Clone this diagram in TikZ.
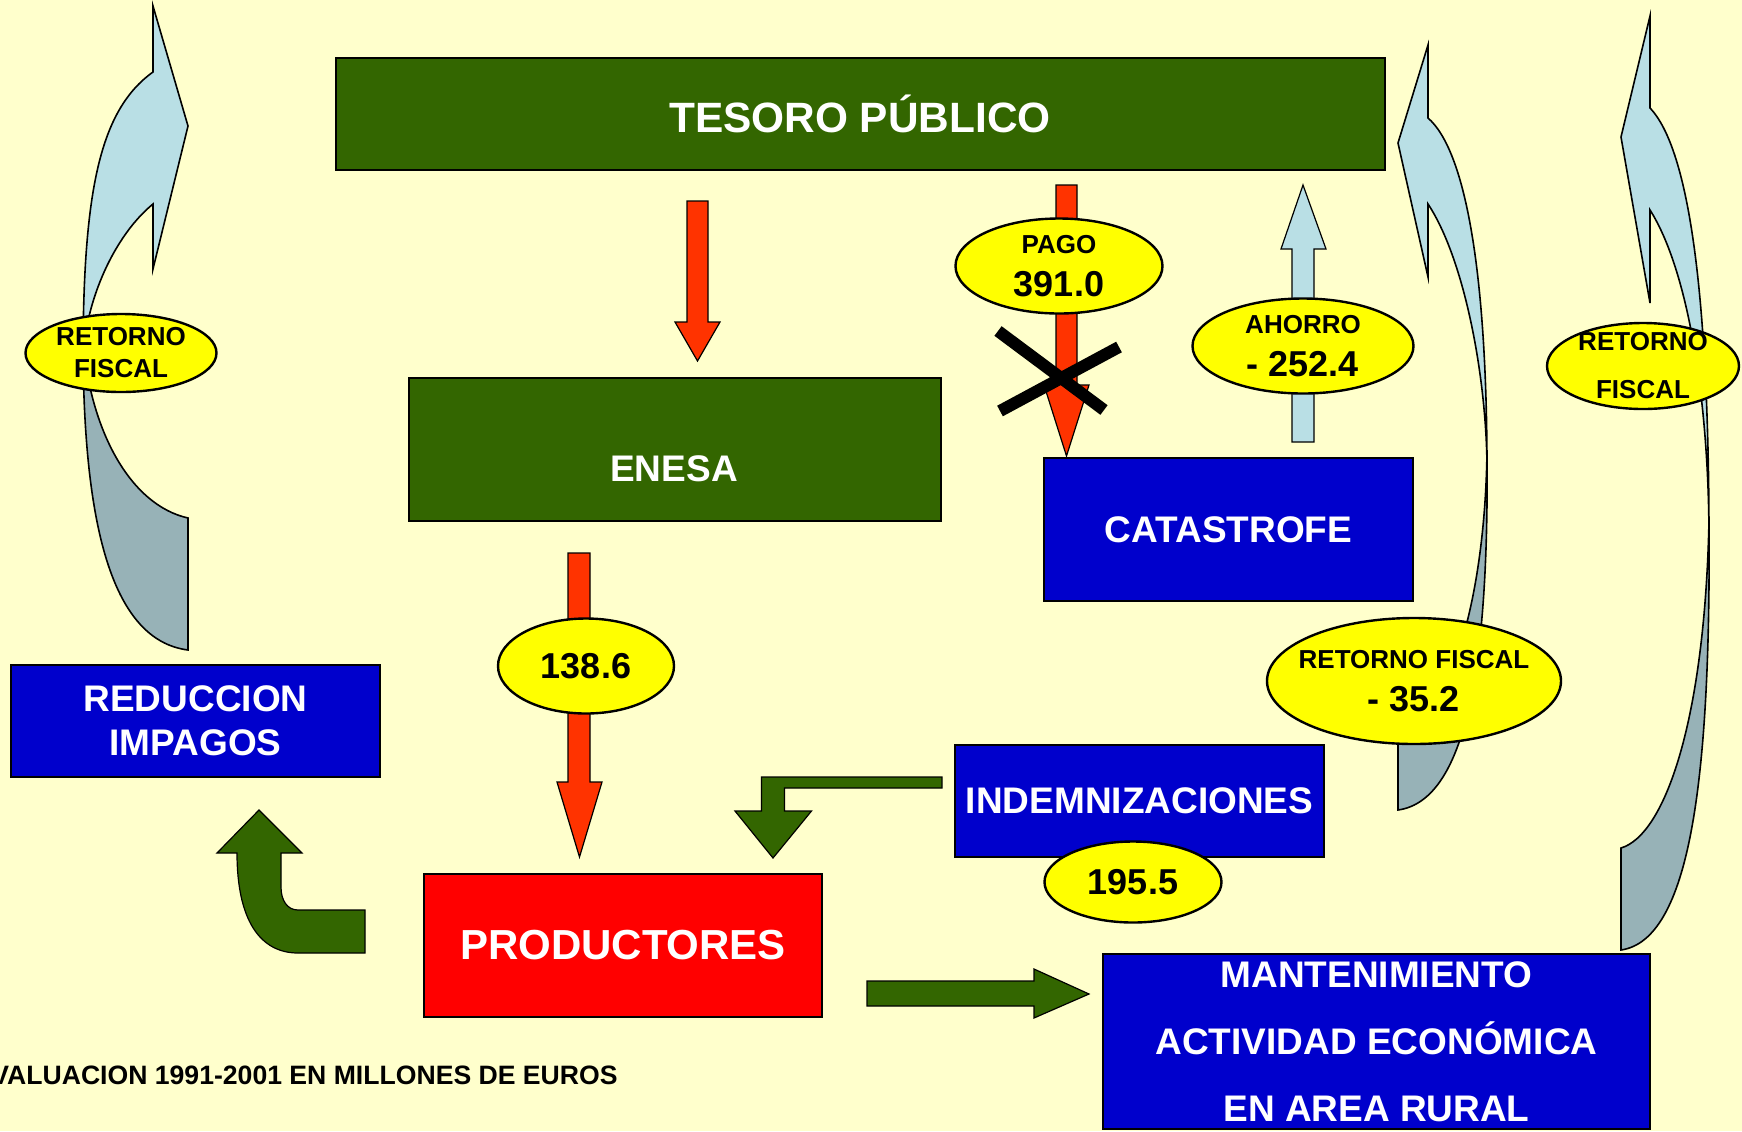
\documentclass[tikz,border=0pt]{standalone}
\usepackage{fontspec}
\setmainfont{Liberation Sans}
\usetikzlibrary{shapes.geometric}

\definecolor{fondo}{RGB}{255,255,204}
\definecolor{verde}{RGB}{51,102,0}
\definecolor{azul}{RGB}{0,0,204}
\definecolor{rojo}{RGB}{255,0,0}
\definecolor{naranja}{RGB}{255,51,0}
\definecolor{amarillo}{RGB}{255,255,0}
\definecolor{celeste}{RGB}{185,223,229}
\definecolor{gris}{RGB}{151,178,183}

\begin{document}
\begin{tikzpicture}
   [x=0.5pt,y=-0.5pt,
    caja/.style={rectangle,draw=black,line width=1pt,inner sep=0pt,align=center,
      text=white,font=\bfseries\fontsize{18.5}{22}\selectfont},
    cverde/.style={caja,fill=verde},
    cazul/.style={caja,fill=azul},
    globo/.style={ellipse,draw=black,line width=1.2pt,fill=amarillo,inner sep=-4pt,
      align=center,font=\bfseries\fontsize{13}{16}\selectfont},
    bloque/.style={draw=black,line width=0.6pt},
    retorno/.style={draw=black,line width=0.8pt}]

\fill[fondo] (0,0) rectangle (1742,1131);
\useasboundingbox (0,0) rectangle (1742,1131);

% retornos fiscales
\draw[retorno,fill=gris] (188,650) -- (188,518) .. controls (130,505) and (90,430) .. (83,340) .. controls (83,520) and (110,640) .. (188,650) -- cycle;
\draw[retorno,fill=celeste] (153,72) .. controls (100,110) and (83,190) .. (83,360) .. controls (85,300) and (115,235) .. (153,204) -- (153,269) -- (188,126) -- (153,6) -- cycle;
\draw[retorno,fill=gris] (1398,810) -- (1398,740) .. controls (1440,730) and (1485,620) .. (1487,450) .. controls (1489,650) and (1470,800) .. (1398,810) -- cycle;
\draw[retorno,fill=celeste] (1428,118) .. controls (1465,150) and (1487,270) .. (1487,470) .. controls (1487,380) and (1465,260) .. (1428,204) -- (1428,277) -- (1398,143) -- (1428,45) -- cycle;
\draw[retorno,fill=gris] (1621,950) -- (1621,848) .. controls (1665,835) and (1705,720) .. (1709,520) .. controls (1711,780) and (1690,940) .. (1621,950) -- cycle;
\draw[retorno,fill=celeste] (1650,108) .. controls (1690,150) and (1709,300) .. (1709,540) .. controls (1709,400) and (1688,270) .. (1650,210) -- (1650,303) -- (1621,137) -- (1650,16) -- cycle;

\node[cverde,minimum width=524.5pt,minimum height=56pt,font=\bfseries\fontsize{21.2}{25}\selectfont] (tesoro) at (860,114) {TESORO PÚBLICO};
\node[cverde,minimum width=266pt,minimum height=71.5pt] (enesa) at (675,449.5) {};
\node[caja,draw=none] (enesaTxt) at (674,469) {ENESA};
\node[cazul,minimum width=184.5pt,minimum height=71.5pt] (catast) at (1228.5,529.5) {CATASTROFE};
\node[cazul,minimum width=184.5pt,minimum height=56pt] (reduc) at (195.5,721) {REDUCCION\\IMPAGOS};
\node[cazul,minimum width=184.5pt,minimum height=56pt] (indem) at (1139.5,801) {INDEMNIZACIONES};
\node[caja,fill=rojo,minimum width=199pt,minimum height=71.5pt,font=\bfseries\fontsize{21}{25}\selectfont] (produc) at (623,945.5) {PRODUCTORES};
\node[cazul,minimum width=273.5pt,minimum height=87.5pt,font=\bfseries\fontsize{18.5}{33.5}\selectfont] (mante) at (1376.5,1041.5) {MANTENIMIENTO\\ACTIVIDAD ECONÓMICA\\EN AREA RURAL};

% flechas
\draw[bloque,fill=naranja] (687,201) -- (708,201) -- (708,322) -- (720,322) -- (697.5,361) -- (675,322) -- (687,322) -- cycle;
\draw[bloque,fill=naranja] (1056,185) -- (1077,185) -- (1077,385) -- (1089,385) -- (1066.5,456) -- (1044,385) -- (1056,385) -- cycle;
\draw[bloque,fill=naranja] (568,553) -- (590,553) -- (590,782) -- (602,782) -- (579.5,857) -- (557,782) -- (568,782) -- cycle;
\draw[bloque,fill=celeste] (1292,442) -- (1314,442) -- (1314,249) -- (1326,249) -- (1303,185) -- (1281,249) -- (1292,249) -- cycle;
\draw[bloque,fill=verde] (942,777) -- (761.5,777) -- (761.5,811) -- (735,811) -- (773,858) -- (811.5,811) -- (784.5,811) -- (784.5,788) -- (942,788) -- cycle;
\draw[bloque,fill=verde] (365,910) -- (298,910) .. controls (287,910) and (281,900) .. (281,887) -- (281,853) -- (302,853) -- (259,810) -- (217,853) -- (237,853) .. controls (237,920) and (260,953) .. (298,953) -- (365,953) -- cycle;
\draw[bloque,fill=verde] (867,981) -- (1034,981) -- (1034,969) -- (1089,994) -- (1034,1018) -- (1034,1006) -- (867,1006) -- cycle;
\draw[line width=6pt] (998,331) -- (1104,410) (1000,411) -- (1119,347);

\node[globo,minimum width=95.5pt,minimum height=39pt] (retIzq) at (121,353) {RETORNO\\FISCAL};
\node[globo,minimum width=103.5pt,minimum height=47.5pt] (pago) at (1059,266) {PAGO\\[5.3pt]{\fontsize{18}{20}\selectfont 391.0}};
\node[globo,minimum width=110.5pt,minimum height=47.5pt] (ahorro) at (1303,346) {AHORRO\\[5.3pt]{\fontsize{18}{20}\selectfont - 252.4}};
\node[globo,minimum width=88pt,minimum height=47.5pt,font=\bfseries\fontsize{18}{20}\selectfont] (val138) at (586,666) {138.6};
\node[globo,inner xsep=-15pt,minimum width=147pt,minimum height=63pt] (retMed) at (1414,681) {RETORNO FISCAL\\[5.3pt]{\fontsize{18}{20}\selectfont - 35.2}};
\node[globo,minimum width=88.5pt,minimum height=40.5pt,font=\bfseries\fontsize{18}{20}\selectfont] (val195) at (1133,882) {195.5};
\node[globo,inner ysep=-12pt,minimum width=96pt,minimum height=43pt,font=\bfseries\fontsize{13}{24}\selectfont] (retDer) at (1643,366) {RETORNO\\FISCAL};

\node[anchor=west,inner sep=0pt,font=\bfseries\fontsize{13.3}{16}\selectfont] (nota) at (-9,1075) {VALUACION 1991-2001 EN MILLONES DE EUROS};
\end{tikzpicture}
\end{document}
